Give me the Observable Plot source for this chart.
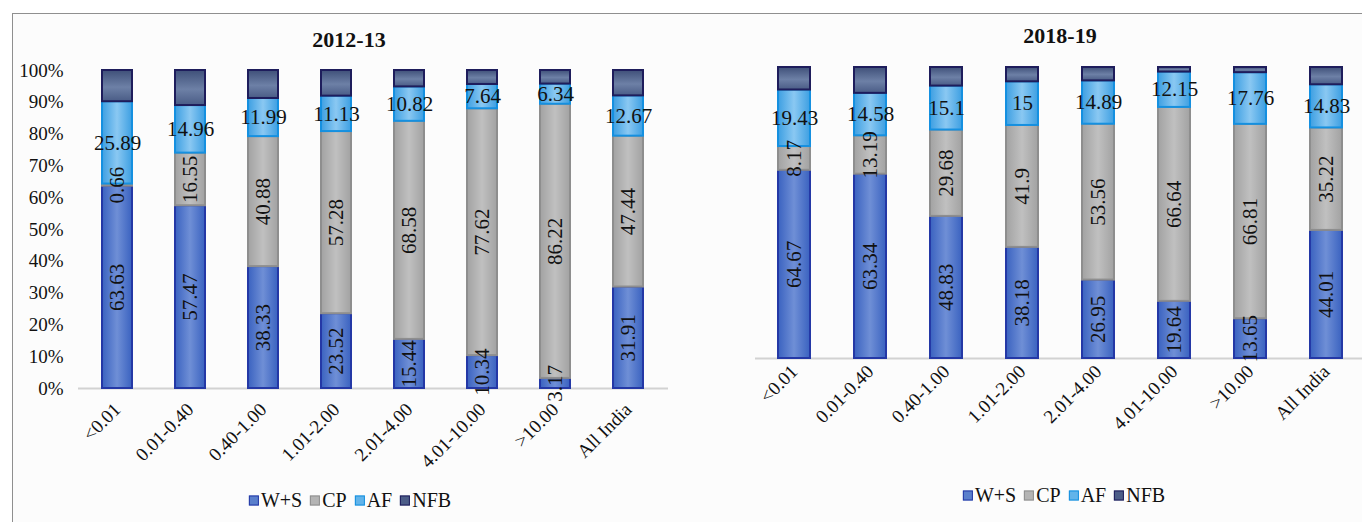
<!DOCTYPE html>
<html><head><meta charset="utf-8">
<script src="https://cdn.jsdelivr.net/npm/d3@7"></script>
<script src="https://cdn.jsdelivr.net/npm/@observablehq/plot@0.6"></script>
<style>
body{margin:0;background:#fff;font-family:"Liberation Serif","Times New Roman",serif;color:#111}
#page{position:relative;width:1362px;height:522px;overflow:hidden;background:#fff}
.frame{position:absolute;left:12px;top:13px;width:1400px;height:600px;border-left:1.5px solid #8f8f8f;border-top:1.5px solid #8f8f8f;background:#fcfcfc}
.title{position:absolute;font-family:"Liberation Serif","Times New Roman",serif;font-weight:bold;font-size:22px;transform:translate(-50%,-50%);white-space:nowrap}
.legend{position:absolute;font-family:"Liberation Serif","Times New Roman",serif;font-size:20px;transform:translate(-50%,-50%);white-space:nowrap}
.legend span.item{margin-right:8px}
.sw{display:inline-block;width:8px;height:8px;border:1.5px solid;margin-right:2px;vertical-align:1px}
</style></head>
<body>
<svg width="0" height="0" style="position:absolute">
<defs>
<linearGradient id="gWS" x1="0" x2="1" y1="0" y2="0"><stop offset="0" stop-color="#3a62c0"/><stop offset="0.5" stop-color="#6f8fd6"/><stop offset="1" stop-color="#3a62c0"/></linearGradient>
<linearGradient id="gCP" x1="0" x2="1" y1="0" y2="0"><stop offset="0" stop-color="#a2a2a2"/><stop offset="0.5" stop-color="#c0c0c0"/><stop offset="1" stop-color="#a2a2a2"/></linearGradient>
<linearGradient id="gAF" x1="0" x2="1" y1="0" y2="0"><stop offset="0" stop-color="#3d9fe2"/><stop offset="0.5" stop-color="#8ac8f2"/><stop offset="1" stop-color="#3d9fe2"/></linearGradient>
<linearGradient id="gNFB" x1="0" x2="0" y1="0" y2="1"><stop offset="0" stop-color="#3f5079"/><stop offset="0.55" stop-color="#6d80a6"/><stop offset="1" stop-color="#4a5c86"/></linearGradient>
</defs></svg>
<div id="page"><div class="frame"></div></div>
<script>
const categories = ["<0.01","0.01-0.40","0.40-1.00","1.01-2.00","2.01-4.00","4.01-10.00",">10.00","All India"];
const seriesNames = ["W+S","CP","AF","NFB"];
const ws2012  = [63.63,57.47,38.33,23.52,15.44,10.34,3.17,31.91];
const cp2012  = [0.66,16.55,40.88,57.28,68.58,77.62,86.22,47.44];
const af2012  = [25.89,14.96,11.99,11.13,10.82,7.64,6.34,12.67];
const nfb2012 = [9.82,11.02,8.80,8.07,5.16,4.40,4.27,7.98];
const ws2018  = [64.67,63.34,48.83,38.18,26.95,19.64,13.65,44.01];
const cp2018  = [8.17,13.19,29.68,41.9,53.56,66.64,66.81,35.22];
const af2018  = [19.43,14.58,15.1,15,14.89,12.15,17.76,14.83];
const nfb2018 = [7.73,8.89,6.39,4.92,4.60,1.57,1.78,5.94];
const yTicks = [0,10,20,30,40,50,60,70,80,90,100];

const fillMap = {"W+S":"url(#gWS)","CP":"url(#gCP)","AF":"url(#gAF)","NFB":"url(#gNFB)"};
const strokeMap = {"W+S":"#2438a6","CP":"#8e8e8e","AF":"#1590e0","NFB":"#1e1d5c"};
const swatchFill = {"W+S":"#5a7fcc","CP":"#b4b4b4","AF":"#62b4ea","NFB":"#4c5d88"};
const FONT = "'Liberation Serif', 'Times New Roman', serif";

function rowsOf(ws, cp, af, nfb) {
  const rows = [];
  categories.forEach((c, i) => {
    [["W+S", ws[i]], ["CP", cp[i]], ["AF", af[i]], ["NFB", nfb[i]]].forEach(([s, v]) => {
      rows.push({cat: c, series: s, value: v});
    });
  });
  return rows;
}

function chart(rows, o) {
  return Plot.plot({
    width: o.width, height: o.height,
    marginTop: o.mt, marginBottom: o.mb, marginLeft: o.ml, marginRight: o.mr,
    style: {fontFamily: FONT, fontSize: "19px", background: "transparent", color: "#111", overflow: "visible"},
    x: {domain: categories, range: o.xRange, paddingInner: o.pi, paddingOuter: 0, label: null, tickSize: 0, tickRotate: -45, tickPadding: o.xpad},
    y: {domain: [0, 100], label: null, ticks: yTicks, tickFormat: d => d + "%", tickSize: 0, tickPadding: 15, axis: o.yAxis ? "left" : null},
    color: {type: "identity"},
    marks: [
      Plot.ruleY([0], {stroke: "#d2d2d2", strokeWidth: 2}),
      Plot.barY(rows, Plot.stackY({x: "cat", y: "value", z: "series",
        fill: d => fillMap[d.series], stroke: d => strokeMap[d.series], strokeWidth: 2})),
      Plot.text(rows, Plot.stackY({x: "cat", y: "value", z: "series",
        text: d => (d.series === "W+S" || d.series === "CP") ? String(d.value) : "",
        rotate: -90, fontSize: 21, fontFamily: FONT, fill: "#111"})),
      Plot.text(rows, Plot.stackY({x: "cat", y: "value", z: "series",
        text: d => d.series === "AF" ? String(d.value) : "",
        fontSize: 21, fontFamily: FONT, fill: "#111"}))
    ]
  });
}

const page = document.getElementById("page");
function place(el, left, top) { el.style.position = "absolute"; el.style.left = left + "px"; el.style.top = top + "px"; page.appendChild(el); }

const left = chart(rowsOf(ws2012, cp2012, af2012, nfb2012),
  {width: 680, height: 400, mt: 20, mb: 62, ml: 78, mr: 12, xRange: [99, 646], pi: 0.59, yAxis: true, xpad: 18});
place(left, 0, 50);
const right = chart(rowsOf(ws2018, cp2018, af2018, nfb2018),
  {width: 682, height: 380, mt: 20, mb: 69, ml: 75, mr: 0, xRange: [96, 663], pi: 0.58, yAxis: false, xpad: 10});
place(right, 680, 47);

function title(text, x, y) { const d = document.createElement("div"); d.className = "title"; d.textContent = text; place(d, x, y); }
title("2012-13", 349, 40);
title("2018-19", 1060, 36);

function legend(x, y) {
  const d = document.createElement("div"); d.className = "legend";
  seriesNames.forEach(s => {
    const it = document.createElement("span"); it.className = "item";
    const sw = document.createElement("span"); sw.className = "sw";
    sw.style.background = swatchFill[s]; sw.style.borderColor = strokeMap[s];
    it.appendChild(sw); it.appendChild(document.createTextNode(s));
    d.appendChild(it);
  });
  place(d, x, y);
}
legend(354, 500);
legend(1068, 495);
</script>
</body></html>
